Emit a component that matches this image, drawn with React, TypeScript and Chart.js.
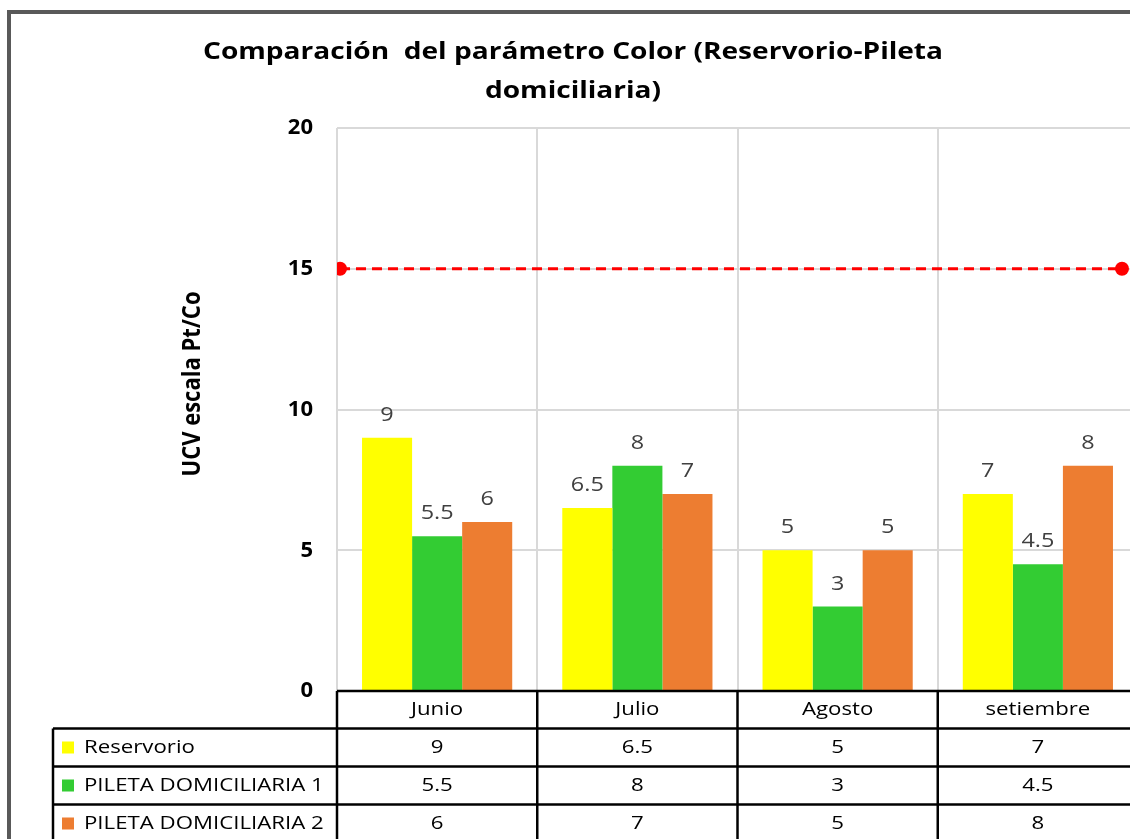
import React, { useEffect, useRef } from "react";
import { Chart, registerables } from "chart.js";

Chart.register(...registerables);

const categories = ["Junio", "Julio", "Agosto", "setiembre"];
const seriesNames = ["Reservorio", "PILETA DOMICILIARIA 1", "PILETA DOMICILIARIA 2"];
const reservorio = [9, 6.5, 5, 7];
const pileta1 = [5.5, 8, 3, 4.5];
const pileta2 = [6, 7, 5, 8];
// limit line (LMP = 15) drawn from the left to the right edge of the plot
const limitX = [-0.485, 3.42];
const limitValues = [15, 15];
const titleLines = ["Comparación  del parámetro Color (Reservorio-Pileta", "domiciliaria)"];
const yAxisTitle = "UCV escala Pt/Co";
const seriesColors = ["#FFFF00", "#33CC33", "#ED7D31"];

const FONT = '"Open Sans", "Noto Sans", sans-serif';
const SX = 1.17;

function drawText(
  ctx: CanvasRenderingContext2D,
  s: string,
  x: number,
  y: number,
  font: string,
  color: string,
  align: CanvasTextAlign = "center",
  baseline: CanvasTextBaseline = "middle"
) {
  ctx.save();
  ctx.translate(x, y);
  ctx.scale(SX, 1);
  ctx.font = font;
  ctx.fillStyle = color;
  ctx.textAlign = align;
  ctx.textBaseline = baseline;
  ctx.fillText(s, 0, 0);
  ctx.restore();
}

function line(ctx: CanvasRenderingContext2D, x1: number, y1: number, x2: number, y2: number) {
  ctx.beginPath();
  ctx.moveTo(x1, y1);
  ctx.lineTo(x2, y2);
  ctx.stroke();
}

const excelPlugin = {
  id: "excelPlugin",
  beforeDraw(chart: any) {
    const ctx = chart.ctx as CanvasRenderingContext2D;
    ctx.save();
    ctx.fillStyle = "#ffffff";
    ctx.fillRect(0, 0, chart.width, chart.height);
    ctx.strokeStyle = "#595959";
    ctx.lineWidth = 4;
    ctx.strokeRect(9, 12, chart.width + 40, chart.height + 40);
    ctx.restore();
  },
  afterDraw(chart: any) {
    const ctx = chart.ctx as CanvasRenderingContext2D;
    const area = chart.chartArea;
    const xs = chart.scales.x;
    const allSeries = [reservorio, pileta1, pileta2];

    // titles
    drawText(ctx, titleLines[0], 573, 52, `bold 24px ${FONT}`, "#000");
    drawText(ctx, titleLines[1], 573, 91, `bold 24px ${FONT}`, "#000");

    // y axis title (rotated)
    ctx.save();
    ctx.translate(193, 384);
    ctx.rotate(-Math.PI / 2);
    ctx.scale(1, SX);
    ctx.font = `bold 22px ${FONT}`;
    ctx.fillStyle = "#000";
    ctx.textAlign = "center";
    ctx.textBaseline = "middle";
    ctx.fillText(yAxisTitle, 0, 0);
    ctx.restore();

    // data labels
    for (let i = 0; i < allSeries.length; i++) {
      const meta = chart.getDatasetMeta(i);
      meta.data.forEach((el: any, j: number) => {
        drawText(ctx, String(allSeries[i][j]), el.x, el.y - 17, `20px ${FONT}`, "#404040", "center", "alphabetic");
      });
    }

    // data table
    const n = categories.length;
    const top = area.bottom;
    const headerH = 37.5;
    const rowH = 38;
    const labelLeft = 53;
    const W = chart.width;
    const H = chart.height;
    ctx.save();
    ctx.strokeStyle = "#000";
    ctx.lineWidth = 2.5;
    line(ctx, area.left, top, W, top);
    for (let r = 0; r <= allSeries.length; r++) {
      const y = top + headerH + r * rowH;
      line(ctx, labelLeft, y, W, y);
    }
    line(ctx, labelLeft, top + headerH, labelLeft, H);
    for (let k = 0; k <= n; k++) {
      const x = xs.getPixelForValue(k - 0.5);
      line(ctx, x, top, x, H);
    }
    ctx.restore();

    categories.forEach((c, j) => {
      drawText(ctx, c, xs.getPixelForValue(j), top + headerH / 2, `19px ${FONT}`, "#000");
    });
    allSeries.forEach((vals, i) => {
      const cy = top + headerH + i * rowH + rowH / 2;
      ctx.save();
      ctx.fillStyle = seriesColors[i];
      ctx.fillRect(labelLeft + 9, cy - 6, 12, 12);
      ctx.restore();
      drawText(ctx, seriesNames[i], labelLeft + 31, cy, `19px ${FONT}`, "#000", "left");
      vals.forEach((v, j) => {
        drawText(ctx, String(v), xs.getPixelForValue(j), cy, `19px ${FONT}`, "#000");
      });
    });
  },
};

export default function App() {
  const ref = useRef<HTMLCanvasElement>(null);
  useEffect(() => {
    const canvas = ref.current!;
    const toXY = (vals: number[]) => vals.map((v, i) => ({ x: i, y: v }));
    const boundaries = [...categories.map((_, i) => i - 0.5), categories.length - 0.5];
    const chart = new Chart(canvas, {
      type: "bar",
      data: {
        datasets: [
          { label: seriesNames[0], data: toXY(reservorio), backgroundColor: seriesColors[0], order: 2 },
          { label: seriesNames[1], data: toXY(pileta1), backgroundColor: seriesColors[1], order: 2 },
          { label: seriesNames[2], data: toXY(pileta2), backgroundColor: seriesColors[2], order: 2 },
          {
            type: "line",
            label: "Límite",
            data: limitValues.map((v, i) => ({ x: limitX[i], y: v })),
            borderColor: "#FF0000",
            borderWidth: 3,
            borderDash: [10, 6],
            pointRadius: 7,
            pointBackgroundColor: "#FF0000",
            pointBorderWidth: 0,
            fill: false,
            order: 1,
          } as any,
        ],
      },
      options: {
        responsive: false,
        animation: false,
        devicePixelRatio: 1,
        layout: { padding: { left: 200, right: 22, top: 128, bottom: 169 } },
        datasets: { bar: { categoryPercentage: 0.75, barPercentage: 1.0 } },
        plugins: { legend: { display: false }, tooltip: { enabled: false }, title: { display: false } },
        scales: {
          x: {
            type: "linear",
            offset: false,
            min: -0.5,
            max: categories.length - 0.5,
            grid: { offset: false, color: "#d9d9d9", lineWidth: 2, drawTicks: false },
            border: { display: false },
            ticks: { display: false },
            afterBuildTicks: (s: any) => {
              s.ticks = boundaries.map((v) => ({ value: v }));
            },
            afterFit: (s: any) => {
              s.height = 0;
            },
          },
          y: {
            min: 0,
            max: 20,
            ticks: { stepSize: 5, padding: 24, color: "#000", font: { family: FONT, size: 22, weight: "bold" } },
            grid: { color: "#d9d9d9", lineWidth: 2, drawTicks: false },
            border: { display: false },
            afterFit: (s: any) => {
              s.width = 137;
            },
          },
        } as any,
      },
      plugins: [excelPlugin],
    });
    return () => chart.destroy();
  }, []);
  return (
    <div style={{ position: "fixed", left: 0, top: 0, width: 1130, height: 839, overflow: "hidden", background: "#fff" }}>
      <canvas ref={ref} width={1160} height={860} style={{ display: "block", width: 1160, height: 860 }} />
    </div>
  );
}
